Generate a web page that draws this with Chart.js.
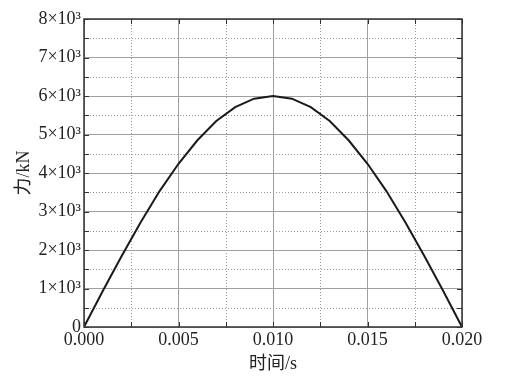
<!DOCTYPE html>
<html>
<head>
<meta charset="utf-8">
<script src="https://cdn.jsdelivr.net/npm/chart.js@4.4.0/dist/chart.umd.min.js"></script>
<style>
  html, body { margin: 0; padding: 0; background: #fff; }
  #wrap { width: 529px; height: 388px; }
</style>
</head>
<body>
<div id="wrap"><canvas id="chart"></canvas></div>
<script>
// time (s) and force (kN)
const times = [0.000, 0.001, 0.002, 0.003, 0.004, 0.005, 0.006, 0.007, 0.008, 0.009, 0.010,
               0.011, 0.012, 0.013, 0.014, 0.015, 0.016, 0.017, 0.018, 0.019, 0.020];
const force = [0, 940, 1850, 2720, 3530, 4240, 4850, 5350, 5710, 5930, 6000,
               5930, 5710, 5350, 4850, 4240, 3530, 2720, 1850, 940, 0];

const xTitle = '时间/s';
const yTitle = '力/kN';
const xMin = 0, xMax = 0.02, xStep = 0.005, xMinor = 0.0025;
const yMin = 0, yMax = 8000, yStep = 1000, yMinor = 500;

const serif = "'Liberation Serif', 'Times New Roman', 'Noto Sans CJK SC', serif";

// minor dotted grid, inward ticks and the box round the plot
const frame = {
  id: 'frame',
  beforeDatasetsDraw(chart) {
    const {ctx, chartArea: a, scales: {x, y}} = chart;
    ctx.save();
    ctx.strokeStyle = '#9a9a9a';
    ctx.lineWidth = 1;
    ctx.setLineDash([1, 2]);
    for (let v = xMin + xMinor; v < xMax; v += xStep) {
      const px = Math.round(x.getPixelForValue(v)) + 0.5;
      ctx.beginPath(); ctx.moveTo(px, a.top); ctx.lineTo(px, a.bottom); ctx.stroke();
    }
    for (let v = yMin + yMinor; v < yMax; v += yStep) {
      const py = Math.round(y.getPixelForValue(v)) + 0.5;
      ctx.beginPath(); ctx.moveTo(a.left, py); ctx.lineTo(a.right, py); ctx.stroke();
    }
    ctx.restore();
  },
  afterDatasetsDraw(chart) {
    const {ctx, chartArea: a, scales: {x, y}} = chart;
    ctx.save();
    ctx.strokeStyle = '#333';
    ctx.lineWidth = 1;
    const len = 5;
    for (let v = xMin; v <= xMax + 1e-9; v += xMinor) {
      const px = Math.round(x.getPixelForValue(v)) + 0.5;
      ctx.beginPath();
      ctx.moveTo(px, a.bottom); ctx.lineTo(px, a.bottom - len);
      ctx.moveTo(px, a.top); ctx.lineTo(px, a.top + len);
      ctx.stroke();
    }
    for (let v = yMin; v <= yMax + 1e-9; v += yMinor) {
      const py = Math.round(y.getPixelForValue(v)) + 0.5;
      ctx.beginPath();
      ctx.moveTo(a.left, py); ctx.lineTo(a.left + len, py);
      ctx.moveTo(a.right, py); ctx.lineTo(a.right - len, py);
      ctx.stroke();
    }
    ctx.lineWidth = 1.5;
    ctx.strokeRect(a.left, a.top, a.right - a.left, a.bottom - a.top);
    ctx.restore();
  }
};

new Chart(document.getElementById('chart'), {
  type: 'line',
  data: {
    datasets: [{
      data: times.map((t, i) => ({x: t, y: force[i]})),
      borderColor: '#1a1a1a',
      borderWidth: 2,
      pointRadius: 0,
      tension: 0,
      fill: false
    }]
  },
  options: {
    responsive: true,
    maintainAspectRatio: false,
    animation: false,
    layout: { padding: { top: 19, right: 67, left: 0, bottom: 9 } },
    plugins: { legend: { display: false }, tooltip: { enabled: false } },
    scales: {
      x: {
        type: 'linear', min: xMin, max: xMax,
        afterFit(s) { s.height = 52; },
        ticks: {
          stepSize: xStep, padding: 2, color: '#222', maxRotation: 0,
          font: { family: serif, size: 18 },
          callback: v => v.toFixed(3)
        },
        grid: { color: '#a0a0a0', lineWidth: 1, drawTicks: false },
        border: { display: false },
        title: { display: true, text: xTitle, color: '#222', padding: { top: 0 },
                 font: { family: serif, size: 18 } }
      },
      y: {
        min: yMin, max: yMax,
        afterFit(s) { s.width = 84; },
        ticks: {
          stepSize: yStep, padding: 3, color: '#222',
          font: { family: serif, size: 18 },
          callback: v => v === 0 ? '0' : (v / 1000) + '×10³'
        },
        grid: { color: '#a0a0a0', lineWidth: 1, drawTicks: false },
        border: { display: false },
        title: { display: true, text: yTitle, color: '#222', padding: { bottom: 0, top: 13 },
                 font: { family: serif, size: 18 } }
      }
    }
  },
  plugins: [frame]
});
</script>
</body>
</html>
